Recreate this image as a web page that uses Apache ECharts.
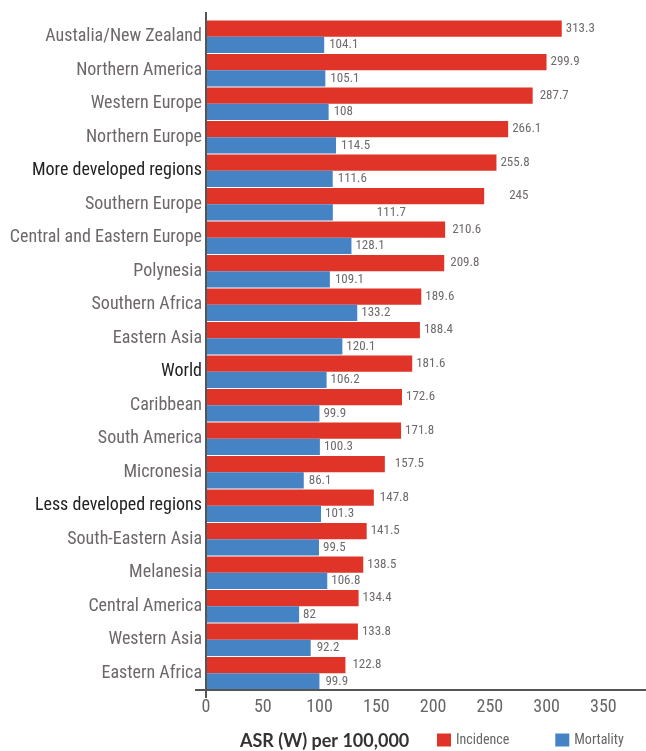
<!DOCTYPE html>
<html>
<head>
<meta charset="utf-8">
<script src="https://cdn.jsdelivr.net/npm/echarts@6/dist/echarts.min.js"></script>
<style>
html,body{margin:0;padding:0;background:#fff;}
#chart{width:646px;height:751px;}
</style>
</head>
<body>
<div id="chart"></div>
<script>
var categories = ["Austalia/New Zealand","Northern America","Western Europe","Northern Europe","More developed regions","Southern Europe","Central and Eastern Europe","Polynesia","Southern Africa","Eastern Asia","World","Caribbean","South America","Micronesia","Less developed regions","South-Eastern Asia","Melanesia","Central America","Western Asia","Eastern Africa"];
var incidence = [313.3,299.9,287.7,266.1,255.8,245,210.6,209.8,189.6,188.4,181.6,172.6,171.8,157.5,147.8,141.5,138.5,134.4,133.8,122.8];
var mortality = [104.1,105.1,108,114.5,111.6,111.7,128.1,109.1,133.2,120.1,106.2,99.9,100.3,86.1,101.3,99.5,106.8,82,92.2,99.9];
var xTicks = [0,50,100,150,200,250,300,350];
var highlighted = ["More developed regions","World","Less developed regions"];

var FONT = "'Liberation Sans Narrow','Arial Narrow','Roboto Condensed',Roboto,sans-serif";
// label gap overrides (styling)
var incGap = {5: 25, 13: 10, 2: 7, 6: 7, 14: 6, 19: 7, 7: 6};
var morGap = {5: 44, 1: 5, 0: 5, 2: 5, 3: 5, 4: 5, 7: 5, 13: 5, 18: 6, 19: 6};

function mk(arr, gaps) {
  return arr.map(function (v, i) {
    var d = {value: v};
    if (gaps[i] != null) d.label = {distance: gaps[i]};
    return d;
  });
}

var chart = echarts.init(document.getElementById('chart'));
var labelStyle = {show: true, position: 'right', distance: 4, color: '#6f6a6c', fontSize: 13, fontFamily: FONT};
chart.setOption({
  animation: false,
  title: {
    text: 'ASR (W) per 100,000',
    left: 240, top: 732, padding: 0,
    textStyle: {fontFamily: 'Lato', fontWeight: 'bold', fontSize: 18, color: '#333'}
  },
  legend: {
    left: 437, top: 733, padding: 0,
    itemWidth: 14, itemHeight: 13, itemGap: 46,
    icon: 'rect',
    textStyle: {fontFamily: FONT, fontSize: 14, color: '#666'},
    data: ['Incidence', 'Mortality']
  },
  grid: {left: 206, right: 0, top: 20, bottom: 61, containLabel: false},
  xAxis: {
    type: 'value', min: 0, max: 387.5, interval: 50,
    axisLine: {show: true, lineStyle: {color: '#555', width: 2}},
    axisTick: {show: false},
    splitLine: {show: false},
    axisLabel: {
      showMaxLabel: false, margin: 8,
      fontFamily: FONT, fontSize: 18, color: '#666',
      formatter: function (v) { return xTicks.indexOf(v) >= 0 ? String(v) : ''; }
    }
  },
  yAxis: {
    type: 'category', inverse: true, data: categories,
    axisLine: {show: true, lineStyle: {color: '#555', width: 2}},
    axisTick: {show: false},
    axisLabel: {
      margin: 4, fontFamily: FONT, fontSize: 18,
      color: function (v) { return highlighted.indexOf(v) >= 0 ? '#222' : '#6e6769'; }
    }
  },
  series: [
    {name: 'Incidence', type: 'bar', data: mk(incidence, incGap), itemStyle: {color: '#DF3427'},
     barGap: '0%', barCategoryGap: '3%', label: labelStyle},
    {name: 'Mortality', type: 'bar', data: mk(mortality, morGap), itemStyle: {color: '#4683C5'},
     barGap: '0%', barCategoryGap: '3%', label: labelStyle}
  ],
  graphic: [
    {type: 'line', shape: {x1: 206, y1: 12, x2: 206, y2: 698}, style: {stroke: '#555', lineWidth: 2}, z: 10},
    {type: 'line', shape: {x1: 195, y1: 690, x2: 646, y2: 690}, style: {stroke: '#555', lineWidth: 2}, z: 10}
  ]
});
</script>
</body>
</html>
